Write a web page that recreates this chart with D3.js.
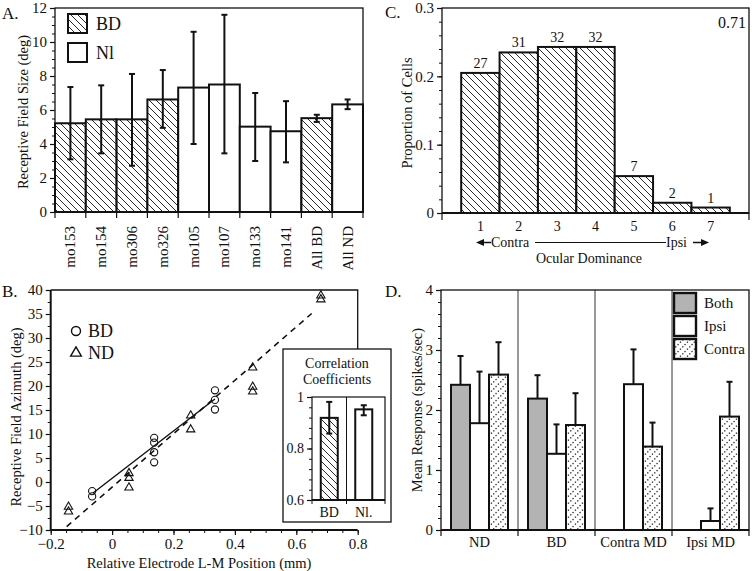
<!DOCTYPE html>
<html><head><meta charset="utf-8">
<script src="https://cdn.jsdelivr.net/npm/d3@7"></script>
<style>body{margin:0;background:#fff}svg{display:block}text{font-family:"Liberation Serif",serif;fill:#111}</style>
</head><body><svg id="c" width="755" height="571"></svg>
<script>
// ---------- Panel A data ----------
const aCats = ["mo153","mo154","mo306","mo326","mo105","mo107","mo133","mo141","All BD","All ND"];
const aVals = [5.22, 5.45, 5.45, 6.62, 7.32, 7.5, 5.02, 4.75, 5.52, 6.33];
const aLow  = [3.1, 3.45, 2.72, 4.95, 4.0, 3.45, 3.0, 2.92, 5.3, 6.05];
const aHigh = [7.35, 7.45, 8.12, 8.35, 10.6, 11.6, 7.0, 6.52, 5.72, 6.62];
const aGroup = ["BD","BD","BD","BD","Nl","Nl","Nl","Nl","BD","Nl"];
const aTicks = [0,2,4,6,8,10,12];
// ---------- Panel C data ----------
const cCats = [1,2,3,4,5,6,7];
const cVals = [0.205, 0.235, 0.243, 0.243, 0.054, 0.015, 0.008];
const cCounts = [27,31,32,32,7,2,1];
const cTicks = [0,0.1,0.2,0.3];
// ---------- Panel B data ----------
const bdX = [-0.065,-0.065,0.137,0.137,0.137,0.137,0.335,0.335,0.335];
const bdY = [-1.9,-3.0,9.2,8.2,6.2,4.1,19.1,17.1,15.1];
const ndX = [-0.142,-0.142,0.055,0.055,0.055,0.256,0.256,0.458,0.458,0.458,0.68,0.68];
const ndY = [-5.0,-6.0,2.0,1.0,-1.0,14.0,11.1,24.0,20.0,19.0,39.0,38.2];
const dashLineX = [-0.148, 0.65];
const dashLineY = [-9.3, 35.1];
const solidLineX = [-0.062, 0.335];
const solidLineY = [-2.3, 17.3];
const bXTicks = [-0.2,0,0.2,0.4,0.6,0.8];
const bYTicks = [-10,-5,0,5,10,15,20,25,30,35,40];
// inset
const insCats = ["BD","Nl."];
const insVals = [0.919, 0.952];
const insLow  = [0.858, 0.929];
const insHigh = [0.981, 0.968];
const insTicks = [0.6,0.8,1];
// ---------- Panel D data ----------
const dGroups = ["ND","BD","Contra MD","Ipsi MD"];
const dSeries = ["Both","Ipsi","Contra"];
const dBoth   = [2.42, 2.19, null, null];
const dIpsi   = [1.78, 1.27, 2.43, 0.15];
const dContra = [2.59, 1.75, 1.39, 1.89];
const dBothErr   = [2.9, 2.58, null, null];
const dIpsiErr   = [2.64, 1.76, 3.01, 0.36];
const dContraErr = [3.13, 2.28, 1.79, 2.47];
const dTicks = [0,1,2,3,4];

const svg = d3.select("#c");
const defs = svg.append("defs");
// hatch "\" pattern
const hp = defs.append("pattern").attr("id","hatch").attr("patternUnits","userSpaceOnUse").attr("width",7).attr("height",7);
hp.append("rect").attr("width",7).attr("height",7).attr("fill","#fff");
hp.append("path").attr("d","M-1,-1 L8,8 M-1,6 L1,8 M6,-1 L8,1").attr("stroke","#111").attr("stroke-width",0.9);
// dotted "/" pattern
const dp = defs.append("pattern").attr("id","dots").attr("patternUnits","userSpaceOnUse").attr("width",7).attr("height",7);
dp.append("rect").attr("width",7).attr("height",7).attr("fill","#fff");
[[0.8,5.5],[3.1,3.2],[5.4,0.9]].forEach(p=>dp.append("rect").attr("x",p[0]).attr("y",p[1]).attr("width",1.3).attr("height",1.3).attr("fill","#222"));

function yAxis(g, scale, major, minor, fmt, fs){
  g.append("g").call(d3.axisLeft(scale).tickValues(minor).tickSize(3).tickFormat(""))
    .call(s=>{s.select(".domain").remove(); s.selectAll("line").attr("stroke","#111").attr("stroke-width",1);});
  g.append("g").call(d3.axisLeft(scale).tickValues(major).tickSize(5).tickPadding(3).tickFormat(fmt))
    .call(s=>{s.select(".domain").remove(); s.selectAll("line").attr("stroke","#111").attr("stroke-width",1.2);
      s.selectAll("text").attr("font-size",fs||15).attr("font-family","Liberation Serif").attr("fill","#111");});
}
function frame(x0,y0,x1,y1,sw){
  svg.append("rect").attr("x",x0).attr("y",y0).attr("width",x1-x0).attr("height",y1-y0).attr("fill","none").attr("stroke","#111").attr("stroke-width",sw||1.3);
}
function txt(x,y,s,fs,anchor,rot){
  const t = svg.append("text").attr("x",x).attr("y",y).attr("font-size",fs).attr("text-anchor",anchor||"start").text(s);
  if(rot) t.attr("transform",`rotate(${rot},${x},${y})`);
  return t;
}
function range(a,b,s){const r=[];for(let v=a;v<=b+1e-9;v+=s)r.push(+v.toFixed(4));return r;}

// ================= Panel A =================
const xA = d3.scaleBand().domain(aCats).range([55,363]).padding(0);
const yA = d3.scaleLinear().domain([0,12]).range([212,8]);
svg.append("g").selectAll("rect").data(aCats).join("rect")
  .attr("x",d=>xA(d)).attr("width",xA.bandwidth())
  .attr("y",(d,i)=>yA(aVals[i])).attr("height",(d,i)=>yA(0)-yA(aVals[i]))
  .attr("fill",(d,i)=>aGroup[i]==="BD"?"url(#hatch)":"#fff").attr("stroke","#111").attr("stroke-width",2);
aCats.forEach((c,i)=>{
  const cx = xA(c)+xA.bandwidth()/2;
  svg.append("line").attr("x1",cx).attr("x2",cx).attr("y1",yA(aLow[i])).attr("y2",yA(aHigh[i])).attr("stroke","#111").attr("stroke-width",2);
  [aLow[i],aHigh[i]].forEach(v=>svg.append("line").attr("x1",cx-3).attr("x2",cx+3).attr("y1",yA(v)).attr("y2",yA(v)).attr("stroke","#111").attr("stroke-width",2));
  txt(cx+5, 226, c, 15, "end", -90);
});
frame(55,8,363,212);
svg.append("line").attr("x1",55).attr("x2",363).attr("y1",212).attr("y2",212).attr("stroke","#111").attr("stroke-width",2);
aCats.concat([null]).forEach((c,i)=>{const x = c?xA(c):363; svg.append("line").attr("x1",x).attr("x2",x).attr("y1",212).attr("y2",218).attr("stroke","#111").attr("stroke-width",1.2);});
yAxis(svg.append("g").attr("transform","translate(55,0)"), yA, aTicks, range(0,12,0.5), d3.format("d"));
txt(23,112,"Receptive Field Size (deg)",14.5,"middle",-90).attr("dy","0.35em");
txt(2,19,"A.",17);
// legend A
svg.append("rect").attr("x",68).attr("y",14).attr("width",19).attr("height",19).attr("fill","url(#hatch)").attr("stroke","#111").attr("stroke-width",2);
svg.append("rect").attr("x",68).attr("y",43).attr("width",19).attr("height",19).attr("fill","#fff").attr("stroke","#111").attr("stroke-width",2);
txt(96,30,"BD",18); txt(96,59,"Nl",18);

// ================= Panel C =================
const xC = d3.scaleLinear().domain([0,8]).range([442,749]);
const yC = d3.scaleLinear().domain([0,0.3]).range([213,8]);
svg.append("g").selectAll("rect").data(cCats).join("rect")
  .attr("x",d=>xC(d-0.5)).attr("width",d=>xC(d+0.5)-xC(d-0.5))
  .attr("y",(d,i)=>yC(cVals[i])).attr("height",(d,i)=>yC(0)-yC(cVals[i]))
  .attr("fill","url(#hatch)").attr("stroke","#111").attr("stroke-width",2);
cCats.forEach((c,i)=>{
  txt(xC(c), yC(cVals[i])-5, cCounts[i], 14, "middle");
  txt(xC(c), 231, c, 14, "middle");
});
frame(442,8,749,213);
svg.append("line").attr("x1",442).attr("x2",749).attr("y1",213).attr("y2",213).attr("stroke","#111").attr("stroke-width",2);
[442,749].forEach(x=>svg.append("line").attr("x1",x).attr("x2",x).attr("y1",213).attr("y2",220).attr("stroke","#111").attr("stroke-width",1.2));
yAxis(svg.append("g").attr("transform","translate(442,0)"), yC, cTicks, range(0,0.3,0.02), v=>v===0?"0":d3.format(".1f")(v));
txt(407,113,"Proportion of Cells",14.5,"middle",-90).attr("dy","0.35em");
txt(385,18,"C.",17);
txt(746,28,"0.71",16,"end");
// contra / ipsi arrow row
txt(491,247,"Contra",14); txt(666,247,"Ipsi",14);
svg.append("line").attr("x1",535).attr("x2",666).attr("y1",242.5).attr("y2",242.5).attr("stroke","#111").attr("stroke-width",1);
svg.append("line").attr("x1",482).attr("x2",491).attr("y1",242.5).attr("y2",242.5).attr("stroke","#111").attr("stroke-width",1.5);
svg.append("line").attr("x1",693).attr("x2",702).attr("y1",242.5).attr("y2",242.5).attr("stroke","#111").attr("stroke-width",1.5);
svg.append("path").attr("d","M476,242.5 L484,239 L484,246 Z").attr("fill","#111");
svg.append("path").attr("d","M709,242.5 L701,239 L701,246 Z").attr("fill","#111");
txt(589,263,"Ocular Dominance",14,"middle");

// ================= Panel B =================
const xB = d3.scaleLinear().domain([-0.2,0.8]).range([50.7,357.7]);
const yB = d3.scaleLinear().domain([-10,40]).range([530,290]);
svg.append("path").attr("d","M50.7,290 L357.7,290 L357.7,349").attr("fill","none").attr("stroke","#111").attr("stroke-width",1.3);
svg.append("line").attr("x1",50.7).attr("x2",357.7).attr("y1",530).attr("y2",530).attr("stroke","#111").attr("stroke-width",2);
svg.append("line").attr("x1",50.7).attr("x2",50.7).attr("y1",290).attr("y2",530).attr("stroke","#111").attr("stroke-width",2);
const line = d3.line().x(d=>xB(d[0])).y(d=>yB(d[1]));
svg.append("path").attr("d",line(dashLineX.map((x,i)=>[x,dashLineY[i]]))).attr("stroke","#111").attr("stroke-width",1.6).attr("stroke-dasharray","6,5").attr("fill","none");
svg.append("path").attr("d",line(solidLineX.map((x,i)=>[x,solidLineY[i]]))).attr("stroke","#111").attr("stroke-width",1.4).attr("fill","none");
bdX.forEach((x,i)=>svg.append("circle").attr("cx",xB(x)).attr("cy",yB(bdY[i])).attr("r",3.6).attr("fill","none").attr("stroke","#111").attr("stroke-width",1.1));
const tri = d3.symbol().type(d3.symbolTriangle).size(30);
ndX.forEach((x,i)=>svg.append("path").attr("d",tri()).attr("transform",`translate(${xB(x)},${yB(ndY[i])+0.8})`).attr("fill","none").attr("stroke","#111").attr("stroke-width",1.1));
svg.append("g").attr("transform","translate(0,530)").call(d3.axisBottom(xB).tickValues(range(-0.2,0.8,0.05)).tickSize(3).tickFormat(""))
  .call(s=>{s.select(".domain").remove(); s.selectAll("line").attr("stroke","#111");});
svg.append("g").attr("transform","translate(0,530)").call(d3.axisBottom(xB).tickValues(bXTicks).tickSize(5).tickPadding(3).tickFormat(v=>v===0?"0":d3.format(".1f")(v)))
  .call(s=>{s.select(".domain").remove(); s.selectAll("line").attr("stroke","#111").attr("stroke-width",1.2);
    s.selectAll("text").attr("font-size",15).attr("font-family","Liberation Serif").attr("fill","#111");});
yAxis(svg.append("g").attr("transform","translate(50.7,0)"), yB, bYTicks, range(-10,40,2.5), d3.format("d"));
txt(16,417,"Receptive Field Azimuth (deg)",14.5,"middle",-90).attr("dy","0.35em");
txt(199,568,"Relative Electrode L-M Position (mm)",14.5,"middle");
txt(2,297,"B.",17);
svg.append("circle").attr("cx",76).attr("cy",331).attr("r",4.5).attr("fill","none").attr("stroke","#111").attr("stroke-width",1.4);
svg.append("path").attr("d",d3.symbol().type(d3.symbolTriangle).size(50)()).attr("transform","translate(76,353)").attr("fill","none").attr("stroke","#111").attr("stroke-width",1.4);
txt(88,337,"BD",18); txt(88,359,"ND",18);

// inset
svg.append("rect").attr("x",283).attr("y",349).attr("width",108).attr("height",173).attr("fill","#fff").attr("stroke","#111").attr("stroke-width",1.3);
txt(337,368,"Correlation",14,"middle"); txt(337,384,"Coefficients",14,"middle");
const xI = d3.scaleBand().domain(insCats).range([312,381]);
const yI = d3.scaleLinear().domain([0.6,1]).range([500,397]);
svg.append("line").attr("x1",346.5).attr("x2",346.5).attr("y1",397).attr("y2",500).attr("stroke","#111").attr("stroke-width",1);
insCats.forEach((c,i)=>{
  const cx = xI(c)+xI.bandwidth()/2;
  svg.append("rect").attr("x",cx-8.5).attr("width",17).attr("y",yI(insVals[i])).attr("height",yI(0.6)-yI(insVals[i]))
    .attr("fill",i===0?"url(#hatch)":"#fff").attr("stroke","#111").attr("stroke-width",2);
  svg.append("line").attr("x1",cx).attr("x2",cx).attr("y1",yI(insLow[i])).attr("y2",yI(insHigh[i])).attr("stroke","#111").attr("stroke-width",2);
  [insLow[i],insHigh[i]].forEach(v=>svg.append("line").attr("x1",cx-3).attr("x2",cx+3).attr("y1",yI(v)).attr("y2",yI(v)).attr("stroke","#111").attr("stroke-width",2));
  txt(cx, 517, c, 14, "middle");
});
svg.append("rect").attr("x",312).attr("y",397).attr("width",73).attr("height",103).attr("fill","none").attr("stroke","#111").attr("stroke-width",1.2);
svg.append("line").attr("x1",312).attr("x2",385).attr("y1",500).attr("y2",500).attr("stroke","#111").attr("stroke-width",2);
[312,346.5,385].forEach(x=>svg.append("line").attr("x1",x).attr("x2",x).attr("y1",500).attr("y2",504).attr("stroke","#111"));
yAxis(svg.append("g").attr("transform","translate(312,0)"), yI, insTicks, range(0.6,1,0.04), v=>v===1?"1":d3.format(".1f")(v), 14);

// ================= Panel D =================
const x0D = d3.scaleBand().domain(dGroups).range([441,749]).padding(0);
const x1D = d3.scaleBand().domain(dSeries).range([10,67]).padding(0);
const yD = d3.scaleLinear().domain([0,4]).range([530,290]);
const dVals = {Both:dBoth, Ipsi:dIpsi, Contra:dContra};
const dErr = {Both:dBothErr, Ipsi:dIpsiErr, Contra:dContraErr};
const dFill = {Both:"#b3b3b3", Ipsi:"#fff", Contra:"url(#dots)"};
dGroups.forEach((g,gi)=>{
  if(gi>0) svg.append("line").attr("x1",x0D(g)).attr("x2",x0D(g)).attr("y1",290).attr("y2",530).attr("stroke","#333").attr("stroke-width",1);
  dSeries.forEach(s=>{
    const v = dVals[s][gi]; if(v==null) return;
    const x = x0D(g)+x1D(s), cx = x + x1D.bandwidth()/2;
    svg.append("line").attr("x1",cx).attr("x2",cx).attr("y1",yD(v)).attr("y2",yD(dErr[s][gi])).attr("stroke","#111").attr("stroke-width",2);
    svg.append("line").attr("x1",cx-3).attr("x2",cx+3).attr("y1",yD(dErr[s][gi])).attr("y2",yD(dErr[s][gi])).attr("stroke","#111").attr("stroke-width",2);
    svg.append("rect").attr("x",x).attr("width",x1D.bandwidth()).attr("y",yD(v)).attr("height",yD(0)-yD(v))
      .attr("fill",dFill[s]).attr("stroke","#111").attr("stroke-width",2);
  });
  txt(x0D(g)+x0D.bandwidth()/2, 547, g, 14.5, "middle");
});
frame(441,290,749,530);
svg.append("line").attr("x1",441).attr("x2",749).attr("y1",530).attr("y2",530).attr("stroke","#111").attr("stroke-width",2);
dGroups.concat([null]).forEach(g=>{const x = g?x0D(g):749; svg.append("line").attr("x1",x).attr("x2",x).attr("y1",530).attr("y2",536).attr("stroke","#111").attr("stroke-width",1.2);});
yAxis(svg.append("g").attr("transform","translate(441,0)"), yD, dTicks, range(0,4,0.2), d3.format("d"));
txt(417,410,"Mean Response (spikes/sec)",14.5,"middle",-90).attr("dy","0.35em");
txt(385,297,"D.",17);
// legend D
dSeries.forEach((s,i)=>{
  svg.append("rect").attr("x",674).attr("y",293+i*23).attr("width",22).attr("height",20).attr("fill",dFill[s]).attr("stroke","#111").attr("stroke-width",2.4);
  txt(704,308+i*23,s,15);
});
</script></body></html>
